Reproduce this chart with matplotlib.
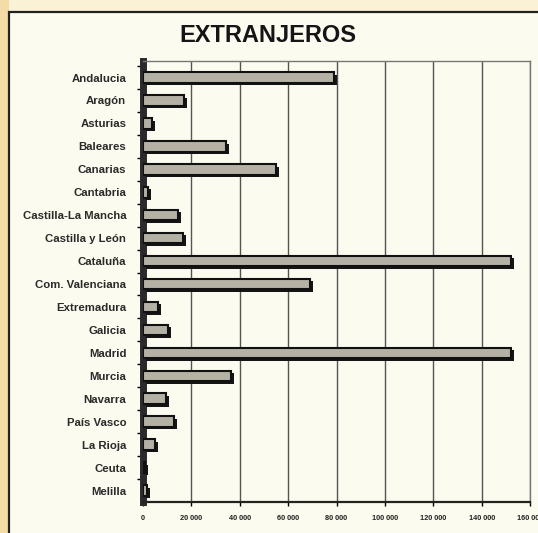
import matplotlib.pyplot as plt
import matplotlib.transforms as mtransforms
from matplotlib.patches import Rectangle

plt.rcParams['font.family'] = ['Liberation Sans', 'DejaVu Sans']

regions = ["Andalucia", "Aragón", "Asturias", "Baleares", "Canarias",
           "Cantabria", "Castilla-La Mancha", "Castilla y León", "Cataluña",
           "Com. Valenciana", "Extremadura", "Galicia", "Madrid", "Murcia",
           "Navarra", "País Vasco", "La Rioja", "Ceuta", "Melilla"]
extranjeros = [79000, 17000, 3700, 34500, 55000, 2200, 14500, 16500, 152000,
               69000, 6300, 10500, 152000, 36500, 9500, 13000, 4800, 900, 1600]
xticks = [0, 20000, 40000, 60000, 80000, 100000, 120000, 140000, 160000]
xtick_labels = ["0", "20 000", "40 000", "60 000", "80 000", "100 000",
                "120 000", "140 000", "160 000"]

paper = "#fcfbef"
fig = plt.figure(figsize=(5.38, 5.33), dpi=100, facecolor="#faf2d6")
# orange scan margin on the left and the page frame
fig.patches.append(Rectangle((0, 0), 9 / 538, 1, transform=fig.transFigure,
                             facecolor="#f5dca6", edgecolor="none", zorder=-6))
fig.patches.append(Rectangle((9 / 538, -0.1), 1.2, 1.1 - 12 / 533,
                             transform=fig.transFigure, facecolor=paper,
                             edgecolor="#222222", linewidth=1.6, zorder=-5))

ax = fig.add_axes([143 / 538, 31 / 533, 387 / 538, 441 / 533])
ax.set_facecolor(paper)

ypos = list(range(len(regions)))
# 3D-looking shadow: a dark copy shifted right/down
shadow = mtransforms.offset_copy(ax.transData, fig=fig, x=3, y=-2.5, units="dots")
ax.barh(ypos, extranjeros, height=0.46, color="#151515", transform=shadow, zorder=3)
ax.barh(ypos, extranjeros, height=0.46, color="#b5b1a5", edgecolor="#111111",
        linewidth=1.5, zorder=4)

ax.set_xlim(0, 160000)
ax.set_ylim(len(regions) - 0.5, -0.72)
ax.set_xticks(xticks)
ax.set_xticklabels(xtick_labels, fontsize=5.3, fontweight="bold", color="#222222")
ax.set_yticks(ypos)
ax.set_yticklabels(regions, fontsize=8.2, fontweight="bold", color="#2a2a2a")
ax.tick_params(axis="y", length=0, pad=12)
ax.tick_params(axis="x", length=3, width=1, direction="out", pad=6)
ax.set_yticks([y + 0.5 for y in ypos[:-1]] + [-0.5], minor=True)
ax.tick_params(axis="y", which="minor", length=4, width=1)

ax.grid(axis="x", color="#555555", linewidth=1.0, zorder=1)
for side in ["top", "right"]:
    ax.spines[side].set_color("#777777")
    ax.spines[side].set_linewidth(1.0)
ax.spines["left"].set_linewidth(5)
ax.spines["left"].set_color("#2a2a2a")
ax.spines["bottom"].set_linewidth(1.6)
ax.spines["bottom"].set_color("#222222")

fig.text(268 / 538, 1 - 35 / 533, "EXTRANJEROS", ha="center", va="center",
         fontsize=17, fontweight="bold", color="#151515")

fig.savefig("out.png", dpi=100, facecolor=fig.get_facecolor())
